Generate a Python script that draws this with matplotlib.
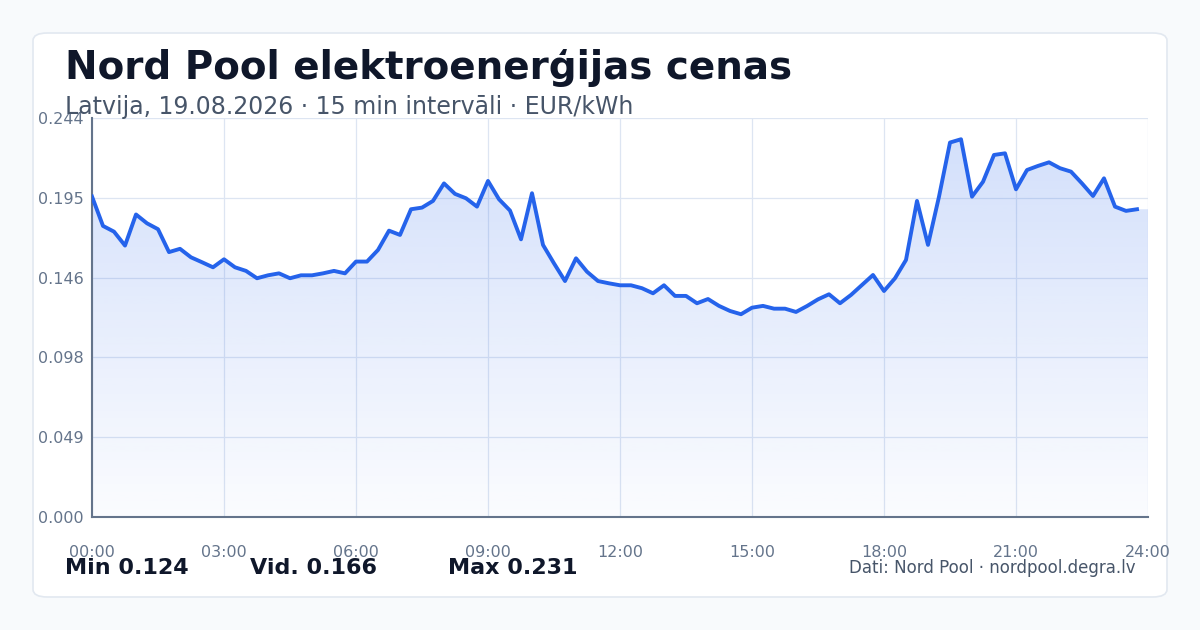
import matplotlib
matplotlib.use("Agg")
import matplotlib.pyplot as plt
import numpy as np
from matplotlib.patches import FancyBboxPatch, PathPatch
from matplotlib.path import Path

prices = [0.196,0.178,0.1745,0.166,0.185,0.1796,0.176,0.162,0.164,0.1588,0.1558,0.1527,
          0.1576,0.1527,0.1505,0.146,0.1478,0.149,0.146,0.1478,0.1478,0.149,0.1505,0.149,
          0.1562,0.1562,0.1633,0.1751,0.1725,0.1882,0.1892,0.1933,0.204,0.1976,0.1949,0.1898,
          0.2055,0.1943,0.1874,0.1698,0.198,0.1664,0.1551,0.1443,0.1582,0.150,0.1443,0.1429,
          0.1417,0.1417,0.1399,0.1368,0.1417,0.1352,0.1352,0.1307,0.1333,0.1291,0.126,0.124,
          0.128,0.1291,0.1274,0.1274,0.1254,0.129,0.1331,0.1362,0.1307,0.1358,0.1419,0.148,
          0.1382,0.146,0.1572,0.1933,0.1664,0.1959,0.229,0.231,0.1959,0.205,0.2214,0.2224,
          0.2004,0.2122,0.2147,0.2169,0.2133,0.2112,0.204,0.1963,0.2071,0.1898,0.1872,0.1882]
hours = np.arange(len(prices)) * 0.25
xtick_labels = ["00:00","03:00","06:00","09:00","12:00","15:00","18:00","21:00","24:00"]
stat_labels = ["Min 0.124", "Vid. 0.166", "Max 0.231"]
ymax = 0.244

fig = plt.figure(figsize=(12, 6.3), dpi=100)
fig.patch.set_facecolor("#f8fafc")
card = FancyBboxPatch((33/1200, 33/630), 1134/1200, 564/630,
                      boxstyle="round,pad=0,rounding_size=0.012", transform=fig.transFigure,
                      facecolor="white", edgecolor="#e2e8f0", linewidth=1.2, zorder=-10)
fig.patches.append(card)

ax = fig.add_axes([92/1200, 113/630, 1056/1200, 399/630])
ax.set_zorder(1)
ax.set_facecolor("none")
ax.set_xlim(0, 24)
ax.set_ylim(0, ymax)
yt = np.linspace(0, ymax, 6)
ax.set_yticks(yt)
ax.set_yticklabels([f"{v:.3f}" for v in yt])
ax.set_xticks(np.arange(0, 25, 3))
ax.set_xticklabels(xtick_labels)
ax.grid(True, color="#dde5f2", linewidth=0.9)
ax.set_axisbelow(True)
for s in ["top", "right"]:
    ax.spines[s].set_visible(False)
ax.spines["left"].set_color("#64748b")
ax.spines["bottom"].set_color("#64748b")
ax.spines["left"].set_linewidth(1.5)
ax.spines["bottom"].set_linewidth(1.5)
ax.tick_params(colors="#64748b", labelsize=11.5, length=0)
ax.tick_params(axis="x", pad=20)
ax.tick_params(axis="y", pad=6)

# gradient fill
verts = [(hours[0], 0)] + list(zip(hours, prices)) + [(24, prices[-1]), (24, 0)]
clip = PathPatch(Path(verts), facecolor="none", edgecolor="none", transform=ax.transData)
ax.add_patch(clip)
grad = np.linspace(0.02, 0.2, 256).reshape(-1, 1)
img = np.zeros((256, 1, 4))
img[..., 0] = 37/255; img[..., 1] = 99/255; img[..., 2] = 235/255
img[..., 3] = grad
im = ax.imshow(img, extent=[0, 24, 0, max(prices)], origin="lower", aspect="auto", zorder=1)
im.set_clip_path(clip)
ax.set_xlim(0, 24)
ax.set_ylim(0, ymax)
ax.plot(hours, prices, color="#2563eb", linewidth=2.8, zorder=3)

fig.text(65/1200, 1 - 68/630, "Nord Pool elektroenerģijas cenas", fontsize=28, fontweight="bold",
         color="#0f172a", va="center")
fig.text(65/1200, 1 - 107/630, "Latvija, 19.08.2026 · 15 min intervāli · EUR/kWh", fontsize=17,
         color="#475569", va="center")
for x, t in zip([65, 250, 448], stat_labels):
    fig.text(x/1200, 1 - 568/630, t, fontsize=16, fontweight="bold", color="#0f172a", va="center")
fig.text(1136/1200, 1 - 568/630, "Dati: Nord Pool · nordpool.degra.lv", fontsize=12, color="#475569",
         va="center", ha="right")
fig.savefig("out.png", dpi=100, facecolor=fig.get_facecolor())
